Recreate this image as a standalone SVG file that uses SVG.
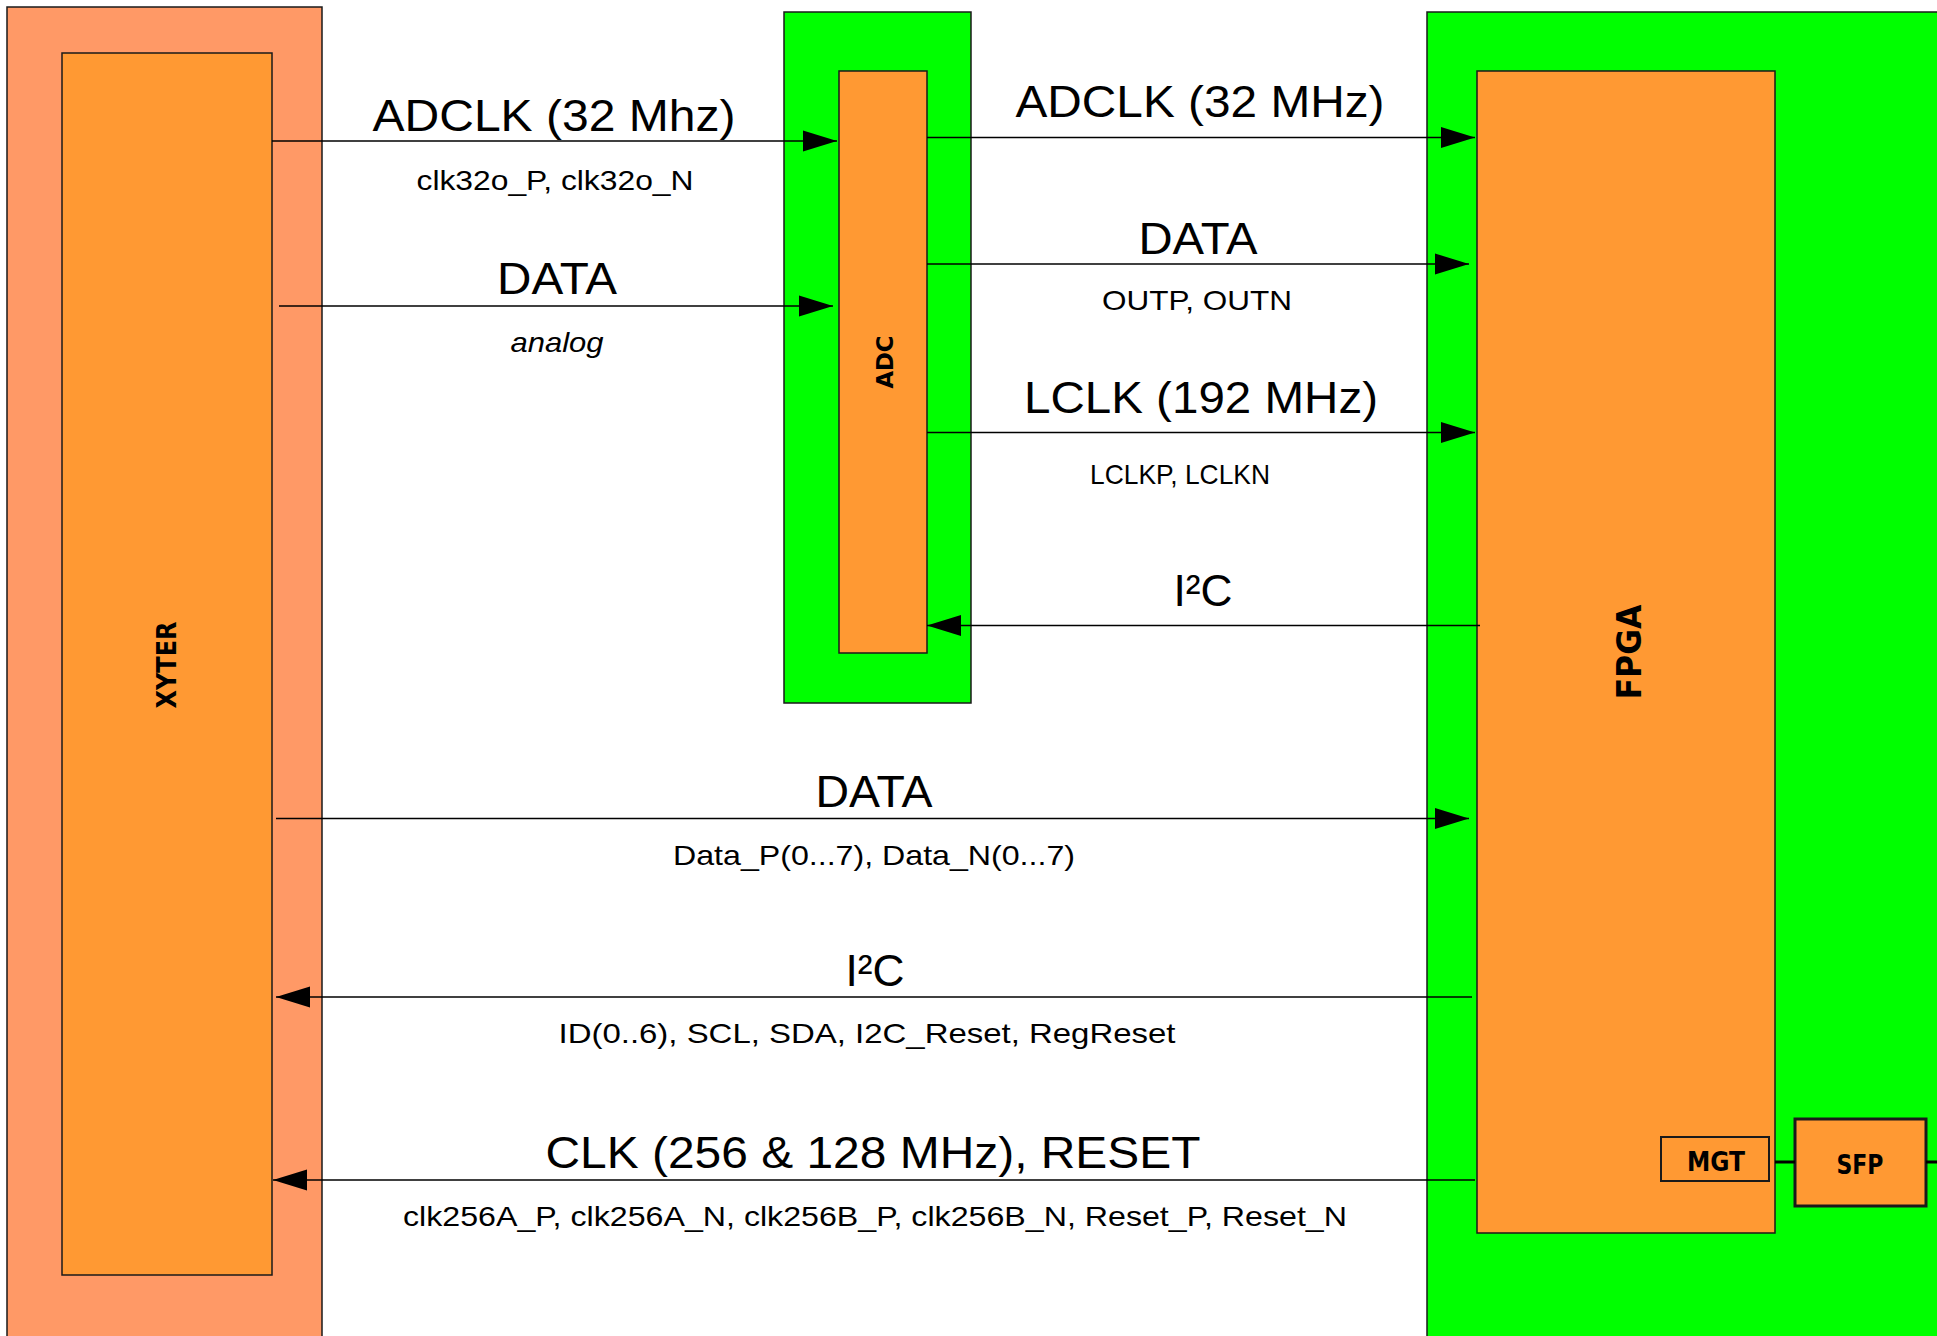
<svg xmlns="http://www.w3.org/2000/svg" width="1937" height="1336" viewBox="0 0 1937 1336">
<style>
.outerS{fill:#FF9966;stroke:#1a1a1a;stroke-width:1.5}
.outerG{fill:#00FF00;stroke:#1a1a1a;stroke-width:1.5}
.chip{fill:#FF9933;stroke:#1a1a1a;stroke-width:1.5}
.big{font-family:"Liberation Sans",Arial,sans-serif;font-size:45px;fill:#000;text-anchor:middle}
.small{font-family:"Liberation Sans",Arial,sans-serif;font-size:28px;fill:#000;text-anchor:middle}
.node{font-family:"DejaVu Sans",sans-serif;font-weight:bold;fill:#000;text-anchor:middle}
.wire{stroke:#000;stroke-width:1.5;fill:none}
</style>
<defs>
<marker id="ah" markerUnits="userSpaceOnUse" markerWidth="34" markerHeight="22" refX="34" refY="11" orient="auto">
<path d="M0,0.5 L34,11 L0,21.5 z" fill="#000"/>
</marker>
</defs>
<rect width="1937" height="1336" fill="#fff"/>

<g id="xyter">
<rect class="outerS" x="7" y="7" width="315" height="1340"/>
<rect class="chip" x="62" y="53" width="210" height="1222"/>
<text class="node" font-size="26" textLength="87" lengthAdjust="spacingAndGlyphs" transform="translate(176,665) rotate(-90)">XYTER</text>
</g>

<g id="adc">
<rect class="outerG" x="784" y="12" width="187" height="691"/>
<rect class="chip" x="839" y="71" width="88" height="582"/>
<text class="node" font-size="23" textLength="53" lengthAdjust="spacingAndGlyphs" transform="translate(893,362) rotate(-90)">ADC</text>
</g>

<g id="fpga">
<rect class="outerG" x="1427" y="12" width="520" height="1340"/>
<rect class="chip" x="1477" y="71" width="298" height="1162"/>
<text class="node" font-size="34" textLength="95" lengthAdjust="spacingAndGlyphs" transform="translate(1641,652) rotate(-90)">FPGA</text>
</g>

<g id="mgt">
<rect class="chip" x="1661" y="1137" width="108" height="44" style="stroke-width:2"/>
<text class="node" font-size="26" textLength="58" lengthAdjust="spacingAndGlyphs" x="1716" y="1171">MGT</text>
</g>

<g id="sfp">
<rect class="chip" x="1795" y="1119" width="131" height="87" style="stroke-width:3"/>
<text class="node" font-size="26" textLength="47" lengthAdjust="spacingAndGlyphs" x="1860" y="1174">SFP</text>
</g>

<g id="connectors">
<line class="wire" x1="272" y1="141" x2="837" y2="141" marker-end="url(#ah)"/>
<line class="wire" x1="279" y1="306" x2="833" y2="306" marker-end="url(#ah)"/>
<line class="wire" x1="927" y1="137.5" x2="1475" y2="137.5" marker-end="url(#ah)"/>
<line class="wire" x1="927" y1="264" x2="1469" y2="264" marker-end="url(#ah)"/>
<line class="wire" x1="927" y1="432.5" x2="1475" y2="432.5" marker-end="url(#ah)"/>
<line class="wire" x1="1480" y1="625.5" x2="927" y2="625.5" marker-end="url(#ah)"/>
<line class="wire" x1="276" y1="818.5" x2="1469" y2="818.5" marker-end="url(#ah)"/>
<line class="wire" x1="1472" y1="997" x2="276" y2="997" marker-end="url(#ah)"/>
<line class="wire" x1="1475" y1="1180" x2="273" y2="1180" marker-end="url(#ah)"/>
<line x1="1775" y1="1162" x2="1795" y2="1162" stroke="#000" stroke-width="3"/>
<line x1="1926" y1="1162" x2="1937" y2="1162" stroke="#000" stroke-width="3"/>
</g>

<g id="labels">
<text class="big" x="554" y="131" textLength="363" lengthAdjust="spacingAndGlyphs">ADCLK (32 Mhz)</text>
<text class="small" x="555" y="190" font-size="27" textLength="277" lengthAdjust="spacingAndGlyphs">clk32o_P, clk32o_N</text>
<text class="big" x="557" y="294" textLength="120" lengthAdjust="spacingAndGlyphs">DATA</text>
<text class="small" x="557" y="352" font-style="italic" textLength="93" lengthAdjust="spacingAndGlyphs">analog</text>
<text class="big" x="1200" y="117" textLength="369" lengthAdjust="spacingAndGlyphs">ADCLK (32 MHz)</text>
<text class="big" x="1198" y="254" textLength="119" lengthAdjust="spacingAndGlyphs">DATA</text>
<text class="small" x="1197" y="310" font-size="29" textLength="190" lengthAdjust="spacingAndGlyphs">OUTP, OUTN</text>
<text class="big" x="1201" y="413" textLength="354" lengthAdjust="spacingAndGlyphs">LCLK (192 MHz)</text>
<text class="small" x="1180" y="484" font-size="25" textLength="180" lengthAdjust="spacingAndGlyphs">LCLKP, LCLKN</text>
<text class="big" x="1203" y="606" textLength="59" lengthAdjust="spacingAndGlyphs">I²C</text>
<text class="big" x="874" y="807" textLength="117" lengthAdjust="spacingAndGlyphs">DATA</text>
<text class="small" x="874" y="865" font-size="30" textLength="402" lengthAdjust="spacingAndGlyphs">Data_P(0...7), Data_N(0...7)</text>
<text class="big" x="875" y="986" textLength="59" lengthAdjust="spacingAndGlyphs">I²C</text>
<text class="small" x="867" y="1043" font-size="30" textLength="617" lengthAdjust="spacingAndGlyphs">ID(0..6), SCL, SDA, I2C_Reset, RegReset</text>
<text class="big" x="873" y="1168" textLength="655" lengthAdjust="spacingAndGlyphs">CLK (256 &amp; 128 MHz), RESET</text>
<text class="small" x="875" y="1226" font-size="29" textLength="944" lengthAdjust="spacingAndGlyphs">clk256A_P, clk256A_N, clk256B_P, clk256B_N, Reset_P, Reset_N</text>
</g>
</svg>
